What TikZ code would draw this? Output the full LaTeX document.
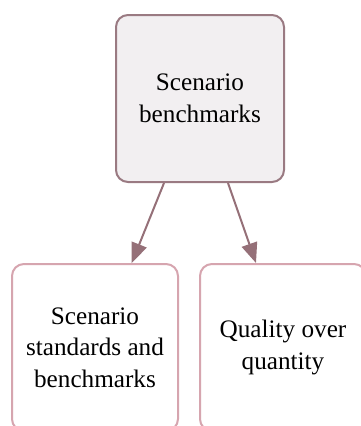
\documentclass[tikz,border=0pt]{standalone}
\usepackage{fontspec}
\setmainfont{Liberation Serif}
\usetikzlibrary{arrows.meta,calc}
\definecolor{topfill}{HTML}{F2EFF1}
\definecolor{topdraw}{HTML}{9A7A82}
\definecolor{arrowcol}{HTML}{957078}
\definecolor{subdraw}{HTML}{D6A5AF}
\tikzset{
  box/.style={rectangle, rounded corners=12pt, line width=2pt, minimum width=166pt, minimum height=167pt, align=center, inner sep=0pt, font=\fontsize{25.2}{31.5}\selectfont, text=black},
  topbox/.style={box, fill=topfill, draw=topdraw, minimum width=168pt},
  subbox/.style={box, fill=white, draw=subdraw},
  conn/.style={draw=arrowcol, line width=2pt, -{Triangle[length=20pt,width=16pt]}, arrowcol}
}
\begin{document}
\begin{tikzpicture}[x=1pt,y=1pt]
\useasboundingbox (0,0) rectangle (361,-426);
\node[topbox] (top) at (200,-98.5) {Scenario\\benchmarks};
\node[subbox] (left) at (95,-347.5) {Scenario\\standards and\\benchmarks};
\node[subbox] (right) at (283,-347.5) {Quality over\\quantity};
\draw[conn] ($(top.south)+(-36,0)$) -- ($(left.north)+(36.7,0)$);
\draw[conn] ($(top.south)+(28,0)$) -- ($(right.north)+(-27,0)$);
\end{tikzpicture}
\end{document}
